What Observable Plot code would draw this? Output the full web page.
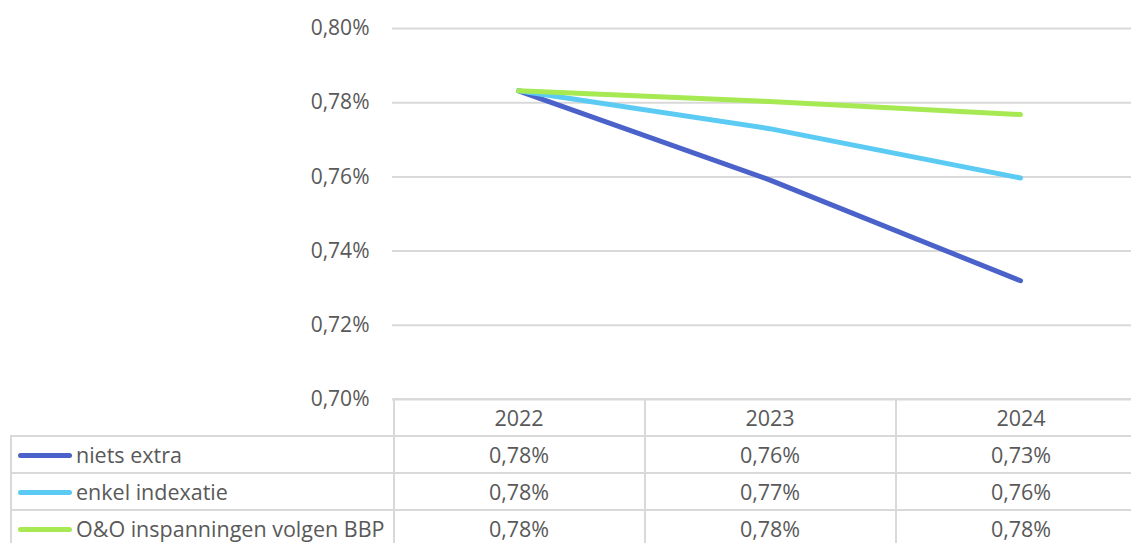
<!DOCTYPE html>
<html>
<head>
<meta charset="utf-8">
<script src="https://cdn.jsdelivr.net/npm/d3@7"></script>
<script src="https://cdn.jsdelivr.net/npm/@observablehq/plot@0.6"></script>
<style>
  html, body { margin: 0; padding: 0; background: #fff; overflow: hidden; width: 1131px; height: 543px; }
  #wrap { position: relative; width: 1200px; height: 543px; overflow: hidden; font-family: "Open Sans", sans-serif; color: #595959; }
  #tbl { position: absolute; border-collapse: collapse; table-layout: fixed; font-size: 21.5px; color: #595959; }
  #tbl td { border: 2px solid #d9d9d9; padding: 0; height: 35px; text-align: center; white-space: nowrap; line-height: 1; }
  #tbl td.blank { border: none; }
  #tbl td.lab { text-align: left; }
  .sw { display: inline-block; width: 54px; height: 5px; border-radius: 3px; vertical-align: middle; margin: 0 4px 3px 6px; }
</style>
</head>
<body>
<div id="wrap"></div>
<script>
const years = ["2022", "2023", "2024"];
const seriesNames = ["niets extra", "enkel indexatie", "O&O inspanningen volgen BBP"];
const nietsExtra = [0.7832, 0.7592, 0.7320];
const enkelIndexatie = [0.7832, 0.7730, 0.7597];
const oenoBBP = [0.7832, 0.7803, 0.7768];
const seriesColors = ["#4a62c9", "#5bcbf4", "#a6e952"];
const yTicks = [0.70, 0.72, 0.74, 0.76, 0.78, 0.80];

const seriesValues = [nietsExtra, enkelIndexatie, oenoBBP];
const data = seriesNames.flatMap((s, i) => years.map((y, j) => ({series: s, year: y, value: seriesValues[i][j]})));
const fmt = v => d3.format(".2f")(v).replace(".", ",") + "%";

const W = 1146;
const chart = Plot.plot({
  width: W,
  height: 420,
  marginLeft: 392,
  marginRight: 0,
  marginTop: 28,
  marginBottom: 21,
  style: {fontFamily: "Open Sans, sans-serif", fontSize: "21px", color: "#595959", background: "transparent", maxWidth: "none"},
  x: {type: "point", domain: years, padding: 0.5, axis: null},
  y: {domain: [0.70, 0.80], label: null},
  color: {domain: seriesNames, range: seriesColors},
  marks: [
    Plot.gridY(yTicks, {stroke: "#d9d9d9", strokeOpacity: 1, strokeWidth: 2}),
    Plot.axisY(yTicks, {tickSize: 0, tickPadding: 23, tickFormat: fmt, fill: "#595959", label: null}),
    Plot.line(data, {x: "year", y: "value", z: "series", stroke: "series", strokeWidth: 5, strokeLinecap: "round", strokeLinejoin: "round"})
  ]
});
const wrap = document.getElementById("wrap");
chart.style.position = "absolute";
chart.style.left = "0px";
chart.style.top = "0px";
chart.style.maxWidth = "none";
wrap.appendChild(chart);

// data table aligned to the x scale
const xs = chart.scale("x");
const step = xs.step !== undefined ? xs.step : (xs.apply(years[1]) - xs.apply(years[0]));
const left0 = xs.apply(years[0]) - step / 2;
const tbl = d3.select(wrap).append("table").attr("id", "tbl")
  .style("left", "10px").style("top", "398px")
  .style("width", (left0 - 10 + step * years.length) + "px");
const colg = tbl.append("colgroup");
colg.append("col").style("width", (left0 - 10) + "px");
years.forEach(() => colg.append("col").style("width", step + "px"));
const head = tbl.append("tr");
head.append("td").attr("class", "blank");
years.forEach(y => head.append("td").text(y));
seriesNames.forEach((s, i) => {
  const tr = tbl.append("tr");
  const lab = tr.append("td").attr("class", "lab");
  lab.append("span").attr("class", "sw").style("background", seriesColors[i]);
  lab.append("span").text(s);
  seriesValues[i].forEach(v => tr.append("td").text(fmt(v)));
});
</script>
</body>
</html>
